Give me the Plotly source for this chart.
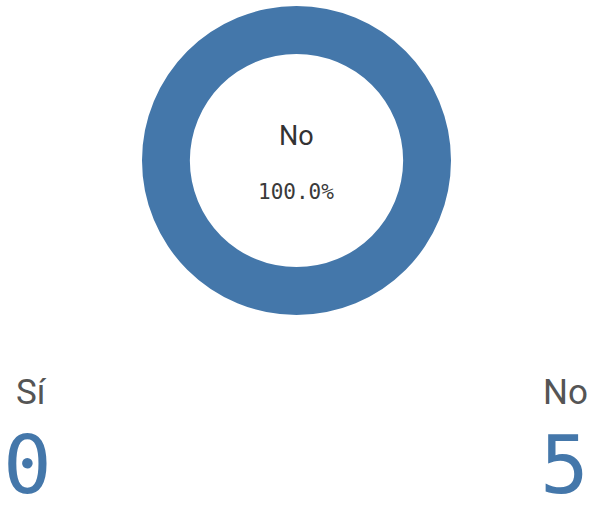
import plotly.graph_objects as go

# Survey answers and their counts
categories = ["Sí", "No"]
counts = [0, 5]
slice_colors = ["#E8A33D", "#4477AA"]

W, H = 590, 512
total = sum(counts)
top_idx = max(range(len(counts)), key=lambda i: counts[i])
top_label = categories[top_idx]
top_pct = 100.0 * counts[top_idx] / total

fig = go.Figure()
fig.add_trace(go.Pie(
    labels=categories,
    values=counts,
    hole=0.69,
    sort=False,
    direction="clockwise",
    textinfo="none",
    hoverinfo="label+value+percent",
    marker=dict(colors=slice_colors, line=dict(width=0)),
    domain=dict(x=[142 / W, 451 / W], y=[1 - 315 / H, 1 - 6 / H]),
    showlegend=False,
))

def py(px):
    return 1 - px / H

BIG = 81
MONO = "DejaVu Sans Mono"

annotations = [
    # centre of the donut: leading category and its share
    dict(x=296 / W, y=py(136), text=top_label, showarrow=False,
         xanchor="center", yanchor="middle",
         font=dict(family="Roboto", size=27, color="#333333")),
    dict(x=296 / W, y=py(192), text=f"{top_pct:.1f}%", showarrow=False,
         xanchor="center", yanchor="middle",
         font=dict(family=MONO, size=21, color="#3a3a3a")),
    # per-category totals along the bottom
    dict(x=14 / W, y=py(392), text=categories[0], showarrow=False,
         xanchor="left", yanchor="middle",
         font=dict(family="Roboto", size=35, color="#555555")),
    dict(x=590 / W, y=py(392), text=categories[1], showarrow=False,
         xanchor="right", yanchor="middle",
         font=dict(family="Roboto", size=35, color="#555555")),
    dict(x=3 / W, y=0, text=str(counts[0]), showarrow=False,
         xanchor="left", yanchor="bottom", borderpad=0, borderwidth=0,
         font=dict(family=MONO, size=BIG, color="#4477AA")),
    dict(x=589 / W, y=0, text=str(counts[1]), showarrow=False,
         xanchor="right", yanchor="bottom", borderpad=0, borderwidth=0,
         font=dict(family=MONO, size=BIG, color="#4477AA")),
]

fig.update_layout(
    width=W, height=H,
    margin=dict(l=0, r=0, t=0, b=0),
    paper_bgcolor="white",
    plot_bgcolor="white",
    annotations=annotations,
)

fig.write_html("out.html")
